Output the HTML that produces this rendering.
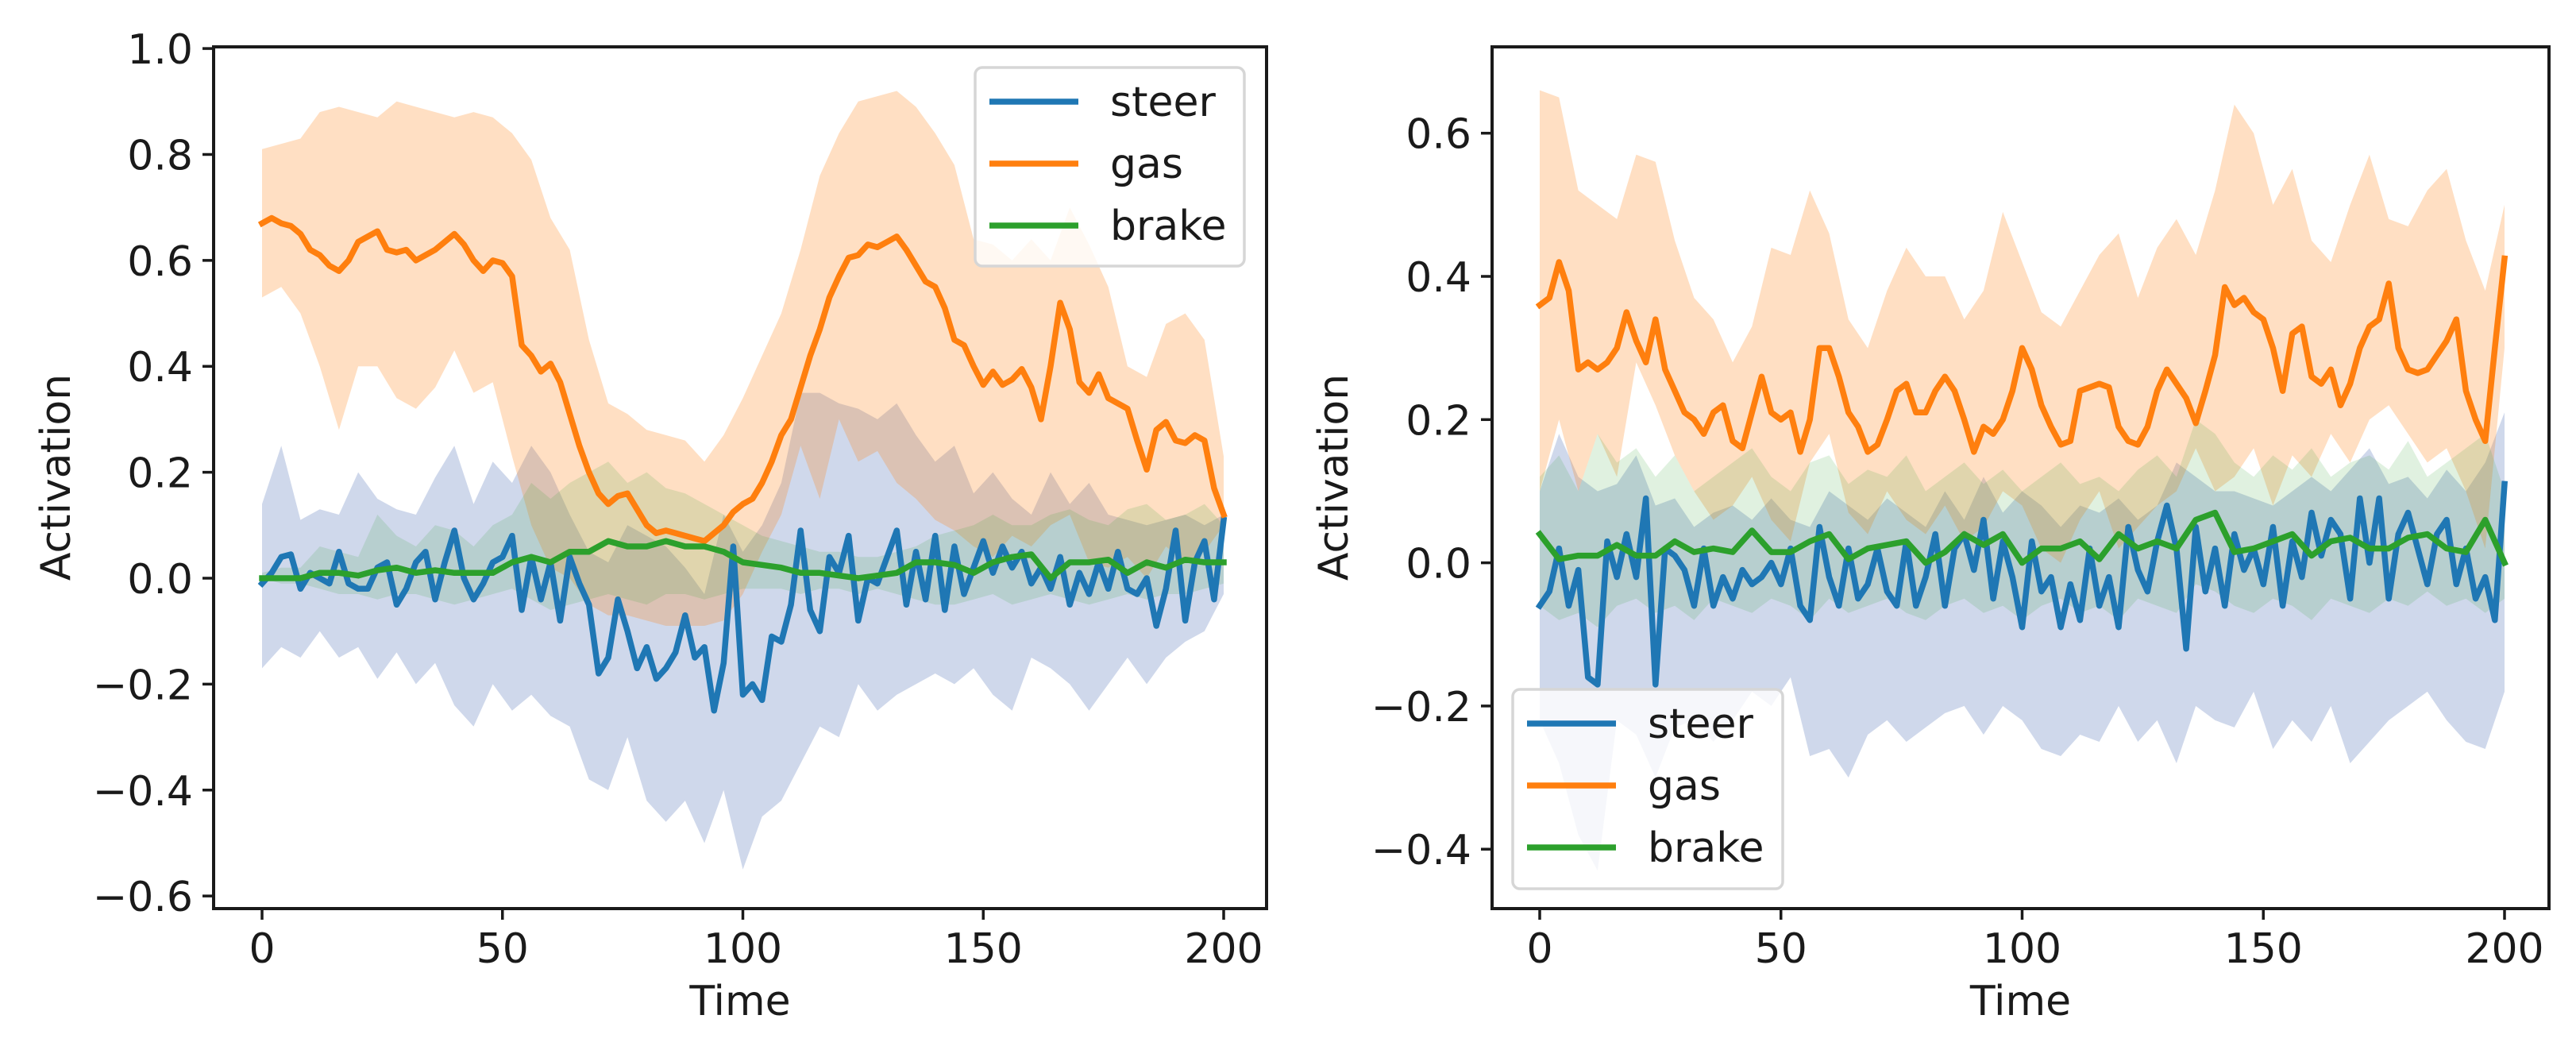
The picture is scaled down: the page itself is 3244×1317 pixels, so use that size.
<!DOCTYPE html>
<html><head><meta charset="utf-8"><style>
html,body{margin:0;padding:0;background:#fff;}
svg{display:block;font-family:"DejaVu Sans","Liberation Sans",sans-serif;}
</style></head><body>
<svg id="fig" width="3244" height="1317" viewBox="0 0 3244 1317" xmlns="http://www.w3.org/2000/svg"></svg>
<script>
const timeTicks=[0,50,100,150,200];
const leftYTicks=[1.0,0.8,0.6,0.4,0.2,0.0,-0.2,-0.4,-0.6];
const rightYTicks=[0.6,0.4,0.2,0.0,-0.2,-0.4];
const seriesNames=["steer","gas","brake"];
const leftGas=[.67,.68,.67,.665,.65,.62,.61,.59,.58,.60,.635,.645,.655,.62,.615,.62,.60,.61,.62,.635,.65,.63,.60,.58,.60,.595,.57,.44,.42,.39,.405,.37,.31,.25,.20,.16,.14,.155,.16,.13,.10,.085,.09,.085,.08,.075,.07,.085,.10,.125,.14,.15,.18,.22,.27,.30,.36,.42,.47,.53,.57,.605,.61,.63,.625,.635,.645,.62,.59,.56,.55,.51,.45,.44,.40,.365,.39,.365,.375,.395,.36,.30,.40,.52,.47,.37,.35,.385,.34,.33,.32,.26,.205,.28,.295,.26,.255,.27,.26,.17,.12];
const leftSteer=[-.01,.01,.04,.045,-.02,.01,0,-.01,.05,-.01,-.02,-.02,.02,.03,-.05,-.02,.03,.05,-.04,.03,.09,0,-.04,-.01,.03,.04,.08,-.06,.04,-.04,.03,-.08,.04,-.01,-.05,-.18,-.15,-.04,-.10,-.17,-.13,-.19,-.17,-.14,-.07,-.15,-.13,-.25,-.16,.06,-.22,-.20,-.23,-.11,-.12,-.05,.09,-.06,-.10,.04,.01,.08,-.08,0,-.01,.04,.09,-.05,.05,-.04,.08,-.06,.06,-.03,.02,.07,.01,.06,.02,.05,-.01,.02,-.02,.04,-.05,.01,-.03,.03,-.02,.05,-.02,-.03,0,-.09,-.02,.09,-.08,.03,.07,-.04,.11];
const leftBrake=[0,0,0,.01,.01,.005,.015,.02,.01,.015,.01,.01,.01,.03,.04,.03,.05,.05,.07,.06,.06,.07,.06,.06,.05,.03,.025,.02,.01,.01,.005,0,.005,.01,.03,.03,.025,.01,.03,.04,.045,0,.03,.03,.035,.01,.03,.02,.035,.03,.03];
const leftGasUp=[.81,.82,.83,.88,.89,.88,.87,.90,.89,.88,.87,.88,.87,.84,.79,.68,.62,.45,.33,.31,.28,.27,.26,.22,.27,.34,.42,.50,.62,.76,.84,.90,.91,.92,.89,.84,.78,.64,.63,.60,.64,.60,.70,.63,.55,.40,.38,.48,.50,.45,.23];
const leftGasLo=[.53,.55,.50,.40,.28,.40,.40,.34,.32,.36,.43,.35,.37,.23,.10,.02,0,-.05,-.07,-.07,-.08,-.09,-.09,-.09,-.08,-.03,.05,.12,.25,.15,.30,.22,.24,.18,.15,.11,.09,.06,.04,.08,.06,.10,.12,.03,.02,.04,0,.06,.03,.05,.10];
const leftSteerUp=[.14,.25,.11,.13,.12,.20,.15,.13,.12,.19,.25,.14,.22,.18,.25,.20,.12,.05,.03,.10,.08,.06,.02,-.03,.12,.05,.10,.18,.35,.35,.33,.32,.30,.33,.27,.22,.25,.16,.20,.15,.12,.20,.14,.18,.12,.11,.10,.11,.12,.10,.12];
const leftSteerLo=[-.17,-.13,-.15,-.10,-.15,-.13,-.19,-.14,-.20,-.16,-.24,-.28,-.20,-.25,-.22,-.26,-.28,-.38,-.40,-.30,-.42,-.46,-.42,-.50,-.40,-.55,-.45,-.42,-.35,-.28,-.30,-.20,-.25,-.22,-.20,-.18,-.20,-.17,-.22,-.25,-.15,-.17,-.20,-.25,-.20,-.15,-.20,-.15,-.12,-.10,-.03];
const leftBrakeUp=[.01,.02,.02,.06,.05,.04,.12,.08,.06,.10,.09,.06,.10,.12,.18,.15,.18,.20,.22,.18,.20,.17,.16,.14,.12,.10,.08,.07,.06,.05,.05,.04,.04,.05,.06,.08,.09,.10,.12,.10,.10,.12,.13,.11,.10,.13,.14,.11,.12,.14,.10];
const leftBrakeLo=[0,-.01,-.01,-.02,-.03,-.03,-.04,-.03,-.03,-.04,-.05,-.04,-.03,-.02,-.04,-.06,-.05,-.04,-.03,-.04,-.05,-.03,-.03,-.04,-.03,-.02,-.02,-.02,-.03,-.02,-.02,-.03,-.02,-.03,-.04,-.05,-.05,-.04,-.03,-.05,-.04,-.03,-.04,-.05,-.04,-.03,-.04,-.03,-.03,-.02,-.01];
const rightGas=[.36,.37,.42,.38,.27,.28,.27,.28,.30,.35,.31,.28,.34,.27,.24,.21,.20,.18,.21,.22,.17,.16,.21,.26,.21,.20,.21,.155,.20,.30,.30,.26,.21,.19,.155,.165,.20,.24,.25,.21,.21,.24,.26,.24,.20,.155,.19,.18,.20,.24,.30,.27,.22,.19,.165,.17,.24,.245,.25,.245,.19,.17,.165,.19,.24,.27,.25,.23,.195,.24,.29,.385,.36,.37,.35,.34,.30,.24,.32,.33,.26,.25,.27,.22,.25,.30,.33,.34,.39,.30,.27,.265,.27,.29,.31,.34,.24,.20,.17,.30,.425];
const rightSteer=[-.06,-.04,.02,-.06,-.01,-.16,-.17,.03,-.02,.04,-.02,.09,-.17,.02,.01,-.01,-.06,.02,-.06,-.02,-.05,-.01,-.03,-.02,0,-.03,.02,-.06,-.08,.05,-.02,-.06,.02,-.05,-.03,.02,-.04,-.06,.03,-.06,-.02,.04,-.06,.02,.04,-.01,.06,-.05,.03,-.02,-.09,.03,-.04,-.02,-.09,-.03,-.08,.02,-.06,-.02,-.09,.05,-.01,-.04,.03,.08,.02,-.12,.05,-.04,.02,-.06,.04,-.01,.02,-.03,.05,-.06,.03,-.02,.07,.01,.06,.04,-.05,.09,0,.09,-.05,.04,.07,.02,-.03,.04,.06,-.03,.02,-.05,-.02,-.08,.11];
const rightBrake=[.04,.005,.01,.01,.025,.01,.01,.03,.015,.02,.015,.045,.015,.015,.03,.04,.005,.02,.025,.03,0,.015,.04,.025,.04,0,.02,.02,.03,.005,.04,.02,.03,.02,.06,.07,.015,.02,.03,.04,.01,.03,.035,.02,.02,.035,.04,.02,.015,.06,0];
const rightGasUp=[.66,.65,.52,.50,.48,.57,.56,.45,.37,.34,.28,.33,.44,.43,.52,.46,.34,.30,.38,.44,.40,.40,.34,.38,.49,.42,.35,.33,.38,.43,.46,.37,.44,.48,.43,.52,.64,.60,.50,.55,.45,.42,.50,.57,.48,.47,.52,.55,.45,.38,.50];
const rightGasLo=[.10,.20,.10,.18,.12,.28,.22,.15,.10,.06,.08,.12,.06,.03,.14,.18,.07,.04,.10,.06,.04,.08,.03,.05,.10,.08,.02,0,.06,.10,.02,.05,.08,.10,.16,.10,.12,.16,.08,.15,.12,.18,.14,.20,.22,.18,.14,.16,.10,.02,.30];
const rightSteerUp=[.10,.18,.12,.10,.11,.15,.08,.09,.05,.07,.08,.06,.09,.06,.05,.10,.08,.06,.09,.07,.05,.10,.06,.12,.07,.10,.08,.05,.08,.07,.09,.06,.08,.14,.12,.10,.10,.09,.08,.10,.12,.10,.13,.16,.11,.12,.09,.13,.10,.14,.21];
const rightSteerLo=[-.22,-.28,-.38,-.43,-.22,-.24,-.30,-.23,-.22,-.25,-.22,-.18,-.20,-.16,-.27,-.26,-.30,-.24,-.22,-.25,-.23,-.21,-.20,-.24,-.20,-.22,-.26,-.27,-.24,-.25,-.20,-.25,-.22,-.28,-.20,-.22,-.23,-.18,-.26,-.22,-.25,-.20,-.28,-.25,-.22,-.20,-.18,-.22,-.25,-.26,-.18];
const rightBrakeUp=[.12,.15,.10,.18,.14,.16,.12,.15,.10,.12,.14,.16,.12,.10,.14,.15,.11,.13,.12,.15,.10,.12,.14,.11,.13,.10,.12,.14,.11,.12,.10,.13,.15,.12,.20,.18,.14,.12,.15,.13,.16,.12,.14,.15,.13,.17,.12,.14,.16,.18,.10];
const rightBrakeLo=[-.06,-.08,-.07,-.09,-.06,-.05,-.07,-.06,-.08,-.05,-.06,-.07,-.05,-.06,-.08,-.05,-.07,-.06,-.05,-.07,-.08,-.06,-.05,-.07,-.06,-.08,-.06,-.05,-.07,-.06,-.08,-.05,-.06,-.07,-.03,-.04,-.06,-.07,-.05,-.06,-.08,-.05,-.06,-.07,-.05,-.06,-.04,-.06,-.05,-.07,-.05];

const NS="http://www.w3.org/2000/svg";
const svg=document.getElementById('fig');
function mk(tag,attrs,parent){const e=document.createElementNS(NS,tag);for(const k in attrs)e.setAttribute(k,attrs[k]);(parent||svg).appendChild(e);return e;}
const COL={steer:"#1f77b4",gas:"#ff7f0e",brake:"#2ca02c"};
const BAND={steer:"rgba(62,100,175,0.25)",gas:"rgba(255,127,14,0.25)",brake:"rgba(44,160,44,0.15)"};

function panel(cfg){
  const g=mk('g',{});
  
  
  const X=t=>cfg.x0+t/200*(cfg.x200-cfg.x0);
  const Y=v=>cfg.yZero-v*cfg.yPer;
  const tOf=(arr,i)=>i*200/(arr.length-1);
  const clip=mk('clipPath',{id:cfg.name+'-clip'},g);
  mk('rect',{x:cfg.L,y:cfg.T,width:cfg.R-cfg.L,height:cfg.B-cfg.T},clip);
  const P=mk('g',{'clip-path':'url(#'+cfg.name+'-clip)'},g);
  [[cfg.steerUp,cfg.steerLo,'steer'],[cfg.gasUp,cfg.gasLo,'gas'],[cfg.brakeUp,cfg.brakeLo,'brake']].forEach(b=>{
    let d="";const up=b[0],lo=b[1];
    up.forEach((v,i)=>{d+=(i?"L":"M")+X(tOf(up,i)).toFixed(1)+","+Y(v).toFixed(1);});
    for(let i=lo.length-1;i>=0;i--)d+="L"+X(tOf(lo,i)).toFixed(1)+","+Y(lo[i]).toFixed(1);
    const p=mk('path',{d:d+"Z",fill:BAND[b[2]],stroke:"none"},P);
    
    
  });
  [[cfg.steer,'steer'],[cfg.gas,'gas'],[cfg.brake,'brake']].forEach(l=>{
    let d="";const arr=l[0];
    arr.forEach((v,i)=>{d+=(i?"L":"M")+X(tOf(arr,i)).toFixed(1)+","+Y(v).toFixed(1);});
    const p=mk('path',{d:d,fill:"none",stroke:COL[l[1]],"stroke-width":7.5,"stroke-linejoin":"round","stroke-linecap":"square"},P);
    
    
  });
  const fr=mk('rect',{x:cfg.L,y:cfg.T,width:cfg.R-cfg.L,height:cfg.B-cfg.T,fill:"none",stroke:"#1a1a1a","stroke-width":4},g);
  
  
  timeTicks.forEach(t=>{
    const x=X(t);
    const tk=mk('line',{x1:x,x2:x,y1:cfg.B,y2:cfg.B+14,stroke:"#1a1a1a","stroke-width":3.5},g);
    
    
    const tx=mk('text',{x:x,y:1212,"text-anchor":"middle","font-size":52,fill:"#1a1a1a"},g);
    tx.textContent=String(t);
    
    
  });
  cfg.yTicks.forEach(v=>{
    const y=Y(v);
    const tk=mk('line',{x1:cfg.L-14,x2:cfg.L,y1:y,y2:y,stroke:"#1a1a1a","stroke-width":3.5},g);
    
    
    const tx=mk('text',{x:cfg.L-26,y:y+19,"text-anchor":"end","font-size":52,fill:"#1a1a1a"},g);
    tx.textContent=(v<0?"\u2212":"")+Math.abs(v).toFixed(1);
    
    
  });
  const xl=mk('text',{x:(cfg.L+cfg.R)/2,y:1278,"text-anchor":"middle","font-size":52,fill:"#1a1a1a"},g);
  xl.textContent="Time";
  
  
  const yl=mk('text',{x:0,y:0,"text-anchor":"middle","font-size":52,fill:"#1a1a1a",transform:"translate("+(cfg.ylabX)+",601) rotate(-90)"},g);
  yl.textContent="Activation";
  
  
  const lg=mk('g',{},g);
  
  
  mk('rect',{x:cfg.lgX,y:cfg.lgY,width:cfg.lgW,height:cfg.lgH,rx:9,fill:"rgba(255,255,255,0.8)",stroke:"#d6d6d6","stroke-width":3.5},lg);
  seriesNames.forEach((n,i)=>{
    const y=cfg.lgY+43+i*78;
    const e=mk('g',{},lg);
    
    
    mk('line',{x1:cfg.lgX+18,x2:cfg.lgX+130,y1:y,y2:y,stroke:COL[n],"stroke-width":7.5},e);
    const t=mk('text',{x:cfg.lgX+170,y:y+18,"font-size":52,fill:"#1a1a1a"},e);
    t.textContent=n;
  });
}
panel({name:'left-panel',L:269,R:1595,T:59,B:1144,x0:330,x200:1541,yZero:728,yPer:666.9,yTicks:leftYTicks,ylabX:88,
  steer:leftSteer,gas:leftGas,brake:leftBrake,steerUp:leftSteerUp,steerLo:leftSteerLo,gasUp:leftGasUp,gasLo:leftGasLo,brakeUp:leftBrakeUp,brakeLo:leftBrakeLo,
  lgX:1228,lgY:85,lgW:339,lgH:250});
panel({name:'right-panel',L:1879,R:3210,T:59,B:1144,x0:1939,x200:3154,yZero:708.6,yPer:901.5,yTicks:rightYTicks,ylabX:1697,
  steer:rightSteer,gas:rightGas,brake:rightBrake,steerUp:rightSteerUp,steerLo:rightSteerLo,gasUp:rightGasUp,gasLo:rightGasLo,brakeUp:rightBrakeUp,brakeLo:rightBrakeLo,
  lgX:1905,lgY:868,lgW:340,lgH:251});
</script>
</body></html>
